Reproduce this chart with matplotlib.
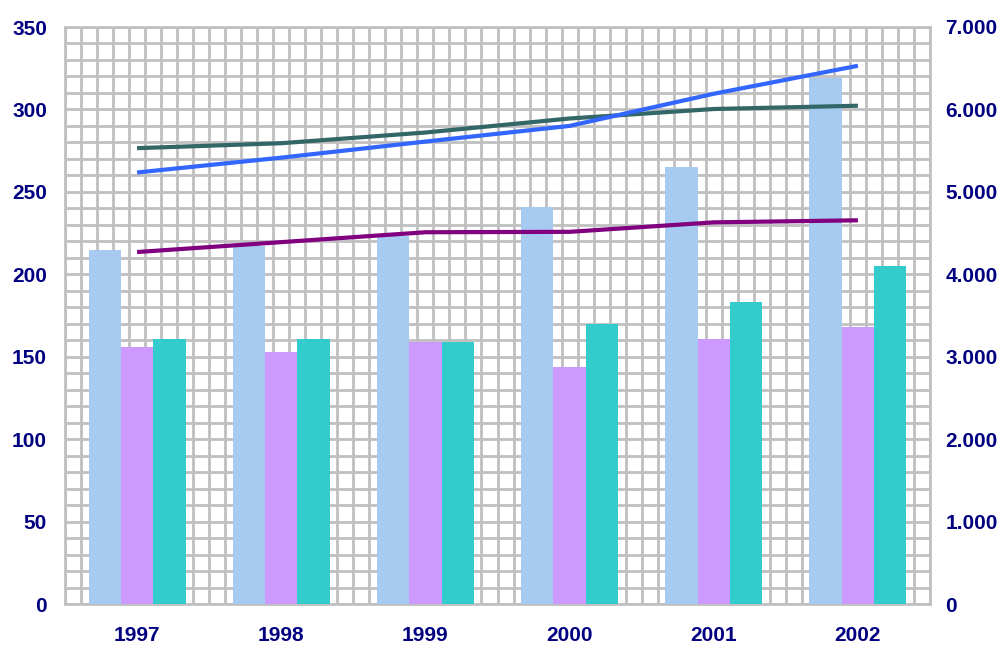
import matplotlib
matplotlib.use("Agg")
import matplotlib.pyplot as plt
import numpy as np
from matplotlib.ticker import FuncFormatter

years = ["1997", "1998", "1999", "2000", "2001", "2002"]

# bar series (left axis)
bar_a = [215, 217, 223, 241, 265, 319]     # light blue
bar_b = [156, 153, 159, 144, 161, 168]     # lilac
bar_c = [161, 161, 159, 170, 183, 205]     # turquoise

# line series (right axis)
line_green = [5530, 5590, 5720, 5890, 6005, 6045]
line_blue = [5235, 5415, 5610, 5800, 6190, 6530]
line_purple = [4270, 4390, 4510, 4515, 4630, 4655]

left_ticks = [0, 50, 100, 150, 200, 250, 300, 350]
right_ticks = [0, 1000, 2000, 3000, 4000, 5000, 6000, 7000]

navy = "#000080"
gridc = "#C0C0C0"
fsize = 15

fig = plt.figure(figsize=(10.02, 6.45), dpi=100)
ax = fig.add_axes([65/1002, 1-604/645, 865/1002, 577/645])

x = np.arange(len(years))
w = 0.224
ax.bar(x - w, bar_a, w, color="#A6CAF0", zorder=3)
ax.bar(x, bar_b, w, color="#CC99FF", zorder=3)
ax.bar(x + w, bar_c, w, color="#33CCCC", zorder=3)

ax.set_xlim(-0.5, len(years) - 0.5)
ax.set_ylim(0, 350)
ax.set_xticks(x)
ax.set_xticklabels(years)
ax.set_yticks(left_ticks)
ax.set_xticks(np.arange(-0.5, len(years) - 0.5 + 1e-9, 1/9), minor=True)
ax.set_yticks(np.arange(0, 351, 10), minor=True)
ax.grid(which="minor", color=gridc, linewidth=2, zorder=0)
ax.grid(which="major", axis="y", color=gridc, linewidth=2, zorder=0)
ax.set_axisbelow(True)
for s in ax.spines.values():
    s.set_color(gridc)
    s.set_linewidth(2)
    s.set_zorder(0)
ax.tick_params(which="both", length=0)
ax.tick_params(axis="x", pad=16)
ax.tick_params(axis="y", pad=13)
for lab in ax.get_xticklabels() + ax.get_yticklabels():
    lab.set_fontfamily("Liberation Sans")
    lab.set_fontweight("bold")
    lab.set_fontsize(fsize)
    lab.set_color(navy)

ax2 = ax.twinx()
ax2.set_ylim(0, 7000)
ax2.set_yticks(right_ticks)
ax2.yaxis.set_major_formatter(FuncFormatter(lambda v, p: f"{int(v):,}".replace(",", ".")))
ax2.plot(x, line_green, color="#336666", linewidth=3, solid_capstyle="butt")
ax2.plot(x, line_blue, color="#3366FF", linewidth=3, solid_capstyle="butt")
ax2.plot(x, line_purple, color="#800080", linewidth=3, solid_capstyle="butt")
for s in ax2.spines.values():
    s.set_visible(False)
ax2.tick_params(length=0, pad=11)
for lab in ax2.get_yticklabels():
    lab.set_fontfamily("Liberation Sans")
    lab.set_fontweight("bold")
    lab.set_fontsize(fsize)
    lab.set_color(navy)

fig.savefig("out.png", dpi=100)
